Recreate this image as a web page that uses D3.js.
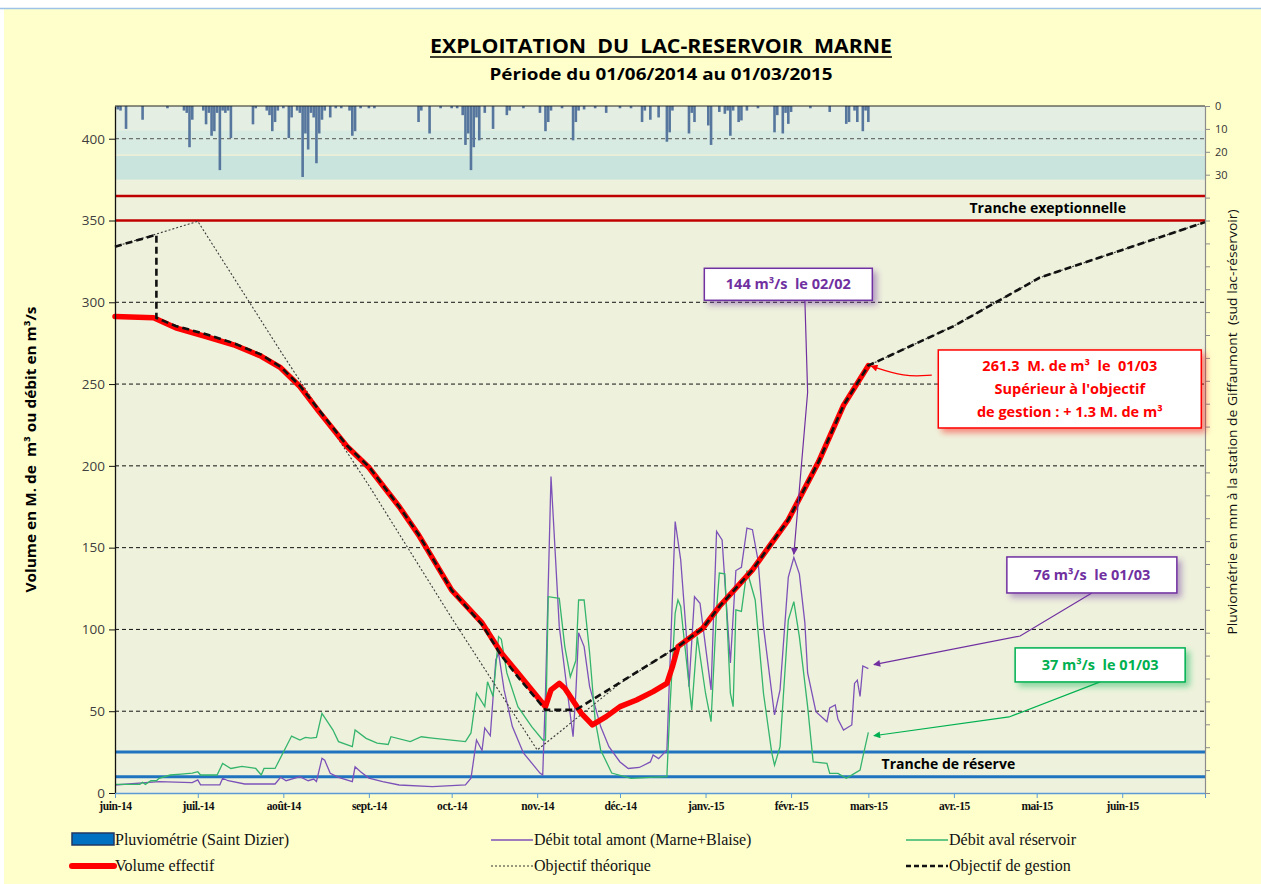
<!DOCTYPE html>
<html>
<head>
<meta charset="utf-8">
<script src="https://cdnjs.cloudflare.com/ajax/libs/d3/7.8.5/d3.min.js"></script>
<style>
  body { margin: 0; background: #fff; }
  svg { display: block; }
  text { white-space: pre; }
</style>
</head>
<body>
<svg></svg>
<script>
// ---- data ----
var monthLabels = ["juin-14", "juil.-14", "août-14", "sept.-14", "oct.-14", "nov.-14", "déc.-14",
  "janv.-15", "févr.-15", "mars-15", "avr.-15", "mai-15", "juin-15", ""];
var leftTicks = [0, 50, 100, 150, 200, 250, 300, 350, 400];
var gridValues = [50, 100, 150, 200, 250, 300, 400];
var rightLabels = [0, 10, 20, 30];
var trancheExceptionnelle = [350, 365];
var trancheReserve = [10, 25];
// background bands behind the rain bars (left axis units)
var rainBands = [[405, 420], [390, 405], [375, 390]];

// pluviometrie in mm (Saint Dizier)
var rain = [
  ["2014-06-02", 1.5], ["2014-06-03", 2], ["2014-06-05", 10], ["2014-06-11", 6], ["2014-06-20", 1],
  ["2014-06-26", 2], ["2014-06-27", 3], ["2014-06-28", 18], ["2014-06-29", 6], ["2014-07-03", 2],
  ["2014-07-04", 8], ["2014-07-05", 3], ["2014-07-06", 13], ["2014-07-07", 11], ["2014-07-08", 3],
  ["2014-07-09", 28], ["2014-07-10", 2], ["2014-07-11", 3], ["2014-07-12", 2], ["2014-07-13", 14],
  ["2014-07-21", 8], ["2014-07-22", 1], ["2014-07-26", 2], ["2014-07-27", 4], ["2014-07-28", 11],
  ["2014-07-29", 7], ["2014-07-30", 2], ["2014-08-01", 1], ["2014-08-03", 14], ["2014-08-04", 5],
  ["2014-08-06", 2], ["2014-08-07", 3], ["2014-08-08", 31], ["2014-08-09", 12], ["2014-08-10", 19],
  ["2014-08-11", 3], ["2014-08-12", 5], ["2014-08-13", 25], ["2014-08-14", 12], ["2014-08-15", 6],
  ["2014-08-16", 2], ["2014-08-18", 5], ["2014-08-20", 1], ["2014-08-22", 1], ["2014-08-25", 2],
  ["2014-08-26", 13], ["2014-08-27", 11], ["2014-08-29", 1], ["2014-09-01", 1], ["2014-09-03", 1],
  ["2014-09-19", 7], ["2014-09-20", 2], ["2014-09-23", 12], ["2014-09-27", 1], ["2014-10-01", 1],
  ["2014-10-03", 1], ["2014-10-05", 4], ["2014-10-06", 17], ["2014-10-07", 12], ["2014-10-08", 28],
  ["2014-10-09", 18], ["2014-10-10", 5], ["2014-10-11", 15], ["2014-10-13", 3], ["2014-10-16", 10],
  ["2014-10-21", 4], ["2014-10-22", 2], ["2014-10-27", 1], ["2014-11-02", 3], ["2014-11-04", 11],
  ["2014-11-05", 7], ["2014-11-06", 2], ["2014-11-10", 1], ["2014-11-14", 15], ["2014-11-15", 7],
  ["2014-11-16", 2], ["2014-11-18", 1.5], ["2014-11-22", 1], ["2014-11-26", 3], ["2014-12-01", 1],
  ["2014-12-05", 1], ["2014-12-09", 7], ["2014-12-10", 2], ["2014-12-12", 6], ["2014-12-15", 5],
  ["2014-12-18", 15.6], ["2014-12-19", 11.5], ["2014-12-20", 2], ["2014-12-26", 12], ["2014-12-27", 3],
  ["2014-12-28", 7], ["2015-01-02", 8.5], ["2015-01-03", 17], ["2015-01-06", 2.6], ["2015-01-08", 3.4],
  ["2015-01-09", 2], ["2015-01-10", 13], ["2015-01-11", 2], ["2015-01-13", 7], ["2015-01-14", 6.3],
  ["2015-01-16", 2], ["2015-01-20", 1], ["2015-01-26", 11.5], ["2015-01-27", 4], ["2015-01-29", 12],
  ["2015-01-30", 3], ["2015-01-31", 7.8], ["2015-02-01", 2.6], ["2015-02-08", 1], ["2015-02-15", 2.6],
  ["2015-02-21", 7.8], ["2015-02-22", 7], ["2015-02-24", 2], ["2015-02-25", 7], ["2015-02-27", 11],
  ["2015-02-28", 2], ["2015-03-01", 7]
];

// debit total amont (Marne+Blaise), m3/s
var debitAmont = [
  ["2014-06-01", 4.9], ["2014-06-17", 6.9], ["2014-06-29", 6.3], ["2014-07-01", 8], ["2014-07-02", 5],
  ["2014-07-09", 5], ["2014-07-10", 9], ["2014-07-12", 7.5], ["2014-07-18", 5.5], ["2014-07-29", 5.5],
  ["2014-07-31", 9.6], ["2014-08-02", 7.5], ["2014-08-07", 10], ["2014-08-10", 7.5], ["2014-08-12", 8.5],
  ["2014-08-13", 7], ["2014-08-15", 21.2], ["2014-08-16", 20], ["2014-08-18", 12], ["2014-08-21", 9.6],
  ["2014-08-26", 7], ["2014-08-27", 16], ["2014-08-29", 13], ["2014-09-01", 9.1], ["2014-09-06", 7],
  ["2014-09-12", 4.9], ["2014-09-24", 3.9], ["2014-10-06", 4.9], ["2014-10-08", 9], ["2014-10-10", 32.4],
  ["2014-10-12", 26], ["2014-10-13", 39.8], ["2014-10-15", 35], ["2014-10-17", 81.3], ["2014-10-18", 85.6],
  ["2014-10-20", 63], ["2014-10-23", 40.6], ["2014-10-27", 24.5], ["2014-11-02", 12.2], ["2014-11-03", 11],
  ["2014-11-04", 61], ["2014-11-06", 193.5], ["2014-11-07", 163], ["2014-11-09", 101.7], ["2014-11-12", 61],
  ["2014-11-14", 34.4], ["2014-11-15", 61], ["2014-11-16", 98], ["2014-11-18", 89.5], ["2014-11-20", 65],
  ["2014-11-24", 40.6], ["2014-11-27", 28.3], ["2014-12-01", 19], ["2014-12-04", 15], ["2014-12-08", 15.6],
  ["2014-12-12", 19], ["2014-12-13", 23.2], ["2014-12-15", 21], ["2014-12-18", 26.3], ["2014-12-19", 73.4],
  ["2014-12-21", 166], ["2014-12-23", 142.5], ["2014-12-25", 98], ["2014-12-26", 65], ["2014-12-28", 120],
  ["2014-12-30", 116], ["2015-01-03", 63], ["2015-01-05", 160], ["2015-01-07", 154.7], ["2015-01-10", 79.5],
  ["2015-01-12", 136], ["2015-01-14", 138], ["2015-01-16", 162], ["2015-01-18", 161], ["2015-01-20", 142.5],
  ["2015-01-22", 101.7], ["2015-01-26", 47.7], ["2015-01-28", 63], ["2015-01-31", 132], ["2015-02-02", 144],
  ["2015-02-04", 134], ["2015-02-06", 104], ["2015-02-07", 73.4], ["2015-02-10", 49.7], ["2015-02-14", 43.6],
  ["2015-02-15", 52], ["2015-02-17", 53.8], ["2015-02-18", 45], ["2015-02-20", 38.5], ["2015-02-23", 41.6],
  ["2015-02-24", 67], ["2015-02-25", 69], ["2015-02-26", 59], ["2015-02-27", 77.7], ["2015-03-01", 76]
];

// debit aval reservoir, m3/s
var debitAval = [
  ["2014-06-01", 5.3], ["2014-06-10", 5.3], ["2014-06-11", 6.6], ["2014-06-12", 5.3], ["2014-06-14", 7.5],
  ["2014-06-16", 7.5], ["2014-06-17", 9], ["2014-06-21", 11], ["2014-06-25", 11.6], ["2014-06-29", 12.2],
  ["2014-07-01", 13], ["2014-07-02", 11], ["2014-07-08", 11], ["2014-07-10", 18.1], ["2014-07-13", 15],
  ["2014-07-17", 16.3], ["2014-07-22", 15], ["2014-07-24", 11], ["2014-07-25", 15], ["2014-07-29", 15],
  ["2014-08-04", 34.8], ["2014-08-07", 32.4], ["2014-08-09", 34], ["2014-08-11", 33.6], ["2014-08-13", 34],
  ["2014-08-15", 48.7], ["2014-08-19", 38.5], ["2014-08-21", 31.4], ["2014-08-26", 28.3], ["2014-08-27", 38.5],
  ["2014-08-31", 33.4], ["2014-09-04", 30.5], ["2014-09-08", 29.7], ["2014-09-09", 34.4], ["2014-09-16", 31.4],
  ["2014-09-20", 34.4], ["2014-09-24", 33.6], ["2014-10-06", 31.4], ["2014-10-08", 36.7], ["2014-10-10", 61],
  ["2014-10-13", 52.8], ["2014-10-14", 68], ["2014-10-16", 59], ["2014-10-18", 95.6], ["2014-10-19", 94],
  ["2014-10-21", 73.4], ["2014-10-25", 52.8], ["2014-10-30", 40.6], ["2014-11-03", 32.4], ["2014-11-04", 32.4],
  ["2014-11-05", 120], ["2014-11-09", 119], ["2014-11-11", 89.5], ["2014-11-13", 71], ["2014-11-15", 81],
  ["2014-11-16", 118], ["2014-11-18", 118], ["2014-11-20", 85.6], ["2014-11-22", 44.6], ["2014-11-24", 26.3],
  ["2014-11-28", 12.2], ["2014-12-05", 9], ["2014-12-12", 9.5], ["2014-12-18", 10], ["2014-12-19", 49],
  ["2014-12-21", 110], ["2014-12-22", 118], ["2014-12-23", 114], ["2014-12-24", 98], ["2014-12-27", 50.8],
  ["2014-12-29", 95.6], ["2015-01-01", 61], ["2015-01-03", 43.6], ["2015-01-05", 112], ["2015-01-06", 134.5],
  ["2015-01-08", 134], ["2015-01-10", 61], ["2015-01-11", 52.8], ["2015-01-12", 112], ["2015-01-14", 111],
  ["2015-01-16", 136], ["2015-01-19", 118], ["2015-01-22", 61], ["2015-01-25", 24.5], ["2015-01-26", 17],
  ["2015-01-28", 28.3], ["2015-01-31", 105.8], ["2015-02-02", 117], ["2015-02-04", 95.6], ["2015-02-07", 52.8],
  ["2015-02-09", 19], ["2015-02-14", 18.1], ["2015-02-15", 12], ["2015-02-18", 12], ["2015-02-21", 9],
  ["2015-02-24", 12], ["2015-02-26", 14], ["2015-02-27", 22], ["2015-03-01", 37]
];

// volume effectif, M. de m3
var volume = [
  ["2014-06-01", 291.3], ["2014-06-15", 290.5], ["2014-06-23", 284.4], ["2014-07-04", 279], ["2014-07-14", 274],
  ["2014-07-24", 267], ["2014-07-31", 260], ["2014-08-07", 248.5], ["2014-08-14", 233], ["2014-08-24", 212],
  ["2014-09-01", 199], ["2014-09-12", 175], ["2014-09-19", 157.8], ["2014-10-01", 124], ["2014-10-12", 104],
  ["2014-10-19", 85.6], ["2014-10-25", 73.4], ["2014-11-04", 52.8], ["2014-11-06", 63], ["2014-11-09", 67],
  ["2014-11-11", 64], ["2014-11-17", 48.7], ["2014-11-21", 41.6], ["2014-11-26", 46.7], ["2014-12-01", 52.8],
  ["2014-12-07", 56.9], ["2014-12-13", 62], ["2014-12-18", 67], ["2014-12-20", 77.2], ["2014-12-22", 89.5],
  ["2014-12-31", 100.7], ["2015-01-06", 114], ["2015-01-18", 136.4], ["2015-01-31", 167], ["2015-02-11", 202.6],
  ["2015-02-20", 237], ["2015-03-01", 261.3]
];

// objectif theorique
var objectifTheorique = [
  ["2014-06-01", 334], ["2014-07-01", 349.5], ["2014-08-01", 267.5], ["2014-09-01", 188], ["2014-10-01", 107],
  ["2014-11-01", 26.3], ["2014-12-01", 67], ["2014-12-22", 89.5], ["2014-12-31", 100.7], ["2015-01-06", 114],
  ["2015-01-18", 136.4], ["2015-01-31", 167], ["2015-02-11", 202.6], ["2015-02-20", 237], ["2015-03-01", 261.3],
  ["2015-04-01", 285.5], ["2015-05-02", 315], ["2015-06-01", 332], ["2015-07-01", 349]
];

// objectif de gestion
var objectifGestion = [
  ["2014-06-01", 334], ["2014-06-16", 341.3], ["2014-06-16", 290.5], ["2014-06-23", 285.5], ["2014-07-04", 280.5],
  ["2014-07-14", 275], ["2014-07-24", 268], ["2014-07-31", 260.5], ["2014-08-07", 249], ["2014-08-14", 234],
  ["2014-08-24", 212.5], ["2014-09-01", 199.5], ["2014-09-12", 175], ["2014-09-19", 158], ["2014-10-01", 124],
  ["2014-10-12", 103], ["2014-10-19", 84], ["2014-10-25", 71], ["2014-11-04", 50.8], ["2014-11-15", 50.8],
  ["2014-12-22", 89.5], ["2014-12-31", 100.7], ["2015-01-06", 114], ["2015-01-18", 136.4], ["2015-01-31", 167],
  ["2015-02-11", 202.6], ["2015-02-20", 237], ["2015-03-01", 261.3], ["2015-04-01", 285.5], ["2015-05-02", 315],
  ["2015-06-01", 332], ["2015-07-01", 349]
];

// annotation boxes: centre in data units, leader points in data units
var annotations = [
  { lines: ["144 m³/s  le 02/02"], color: "#7030a0", center: ["2015-01-31", 311], w: 168, h: 32,
    leader: [["2015-02-06", 301.5], ["2015-02-07", 245], ["2015-02-02", 146]], curve: false },
  { lines: ["261.3  M. de m³  le  01/03", "Supérieur à l'objectif", "de gestion : + 1.3 M. de m³"], color: "#ff0000",
    center: ["2015-05-13", 247], w: 263, h: 78,
    leader: [["2015-03-24", 255.5], ["2015-03-14", 254.3], ["2015-03-02", 261]], curve: true },
  { lines: ["76 m³/s  le 01/03"], color: "#7030a0", center: ["2015-05-21", 133.3], w: 170, h: 36,
    leader: [["2015-05-21", 122.3], ["2015-04-25", 96], ["2015-03-03", 78.5]], curve: false },
  { lines: ["37 m³/s  le 01/03"], color: "#00b050", center: ["2015-05-24", 78.3], w: 170, h: 34,
    leader: [["2015-05-24", 67.9], ["2015-04-21", 46.5], ["2015-03-03", 35]], curve: false }
];

// ---- layout ----
var W = 1261, H = 884;
var plot = {left: 115, right: 1205, top: 106, bottom: 793};

var parse = d3.timeParse("%Y-%m-%d");
function rows(list) { return list.map(function(d) { return {date: parse(d[0]), value: d[1]}; }); }

var x = d3.scaleTime()
  .domain([parse("2014-06-01"), parse("2015-07-01")])
  .range([plot.left, plot.right]);
var yL = d3.scaleLinear().domain([0, 420]).range([plot.bottom, plot.top]);
var yR = d3.scaleLinear().domain([0, 300]).range([plot.top, plot.bottom]);

var svg = d3.select("svg").attr("width", W).attr("height", H);

// page background
svg.append("rect").attr("width", W).attr("height", H).attr("fill", "#fff");
svg.append("rect").attr("x", 4).attr("y", 9).attr("width", W - 4).attr("height", H - 9).attr("fill", "#ffffcc");
svg.append("line").attr("x1", 0).attr("x2", W).attr("y1", 8.5).attr("y2", 8.5)
  .attr("stroke", "#9dc3e6").attr("stroke-width", 1.5);

// shadows for annotation boxes
var defs = svg.append("defs");
annotations.forEach(function(a, i) {
  defs.append("filter").attr("id", "shadow" + i)
    .attr("x", "-20%").attr("y", "-40%").attr("width", "150%").attr("height", "190%")
    .append("feDropShadow")
    .attr("dx", 4).attr("dy", 4).attr("stdDeviation", 3)
    .attr("flood-color", a.color).attr("flood-opacity", 0.45);
  defs.append("marker").attr("id", "arrow" + i)
    .attr("viewBox", "0 0 10 10").attr("refX", 9).attr("refY", 5)
    .attr("markerWidth", 9).attr("markerHeight", 7).attr("markerUnits", "userSpaceOnUse")
    .attr("orient", "auto")
    .append("path").attr("d", "M0,0 L10,5 L0,10 z").attr("fill", a.color);
});

// plot background + rain bands
svg.append("rect")
  .attr("x", plot.left).attr("y", plot.top)
  .attr("width", plot.right - plot.left).attr("height", plot.bottom - plot.top)
  .attr("fill", "#eef2dc");
var bandColors = ["#e4eee3", "#d7ebe3", "#c9e4dd"];
svg.selectAll(".band").data(rainBands).enter().append("rect")
  .attr("class", "band")
  .attr("x", plot.left).attr("width", plot.right - plot.left)
  .attr("y", function(d) { return yL(d[1]); })
  .attr("height", function(d) { return yL(d[0]) - yL(d[1]); })
  .attr("fill", function(d, i) { return bandColors[i]; });
svg.append("line")
  .attr("x1", plot.left).attr("x2", plot.right)
  .attr("y1", yL(390)).attr("y2", yL(390))
  .attr("stroke", "#f6f3d6").attr("stroke-width", 1.2);

// horizontal dashed grid
svg.selectAll(".grid").data(gridValues).enter().append("line")
  .attr("class", "grid")
  .attr("x1", plot.left).attr("x2", plot.right)
  .attr("y1", function(d) { return yL(d); }).attr("y2", function(d) { return yL(d); })
  .attr("stroke", function(d) { return d == 400 ? "#555" : "#111"; })
  .attr("stroke-width", 1)
  .attr("stroke-dasharray", "4,3");

// rain bars hanging from the top
svg.selectAll(".rain").data(rows(rain)).enter().append("rect")
  .attr("class", "rain")
  .attr("x", function(d) { return x(d.date) - 1.3; })
  .attr("width", 2.6)
  .attr("y", yR(0))
  .attr("height", function(d) { return yR(d.value) - yR(0); })
  .attr("fill", "#56769d");

// tranche lines
svg.selectAll(".exc").data(trancheExceptionnelle).enter().append("line")
  .attr("class", "exc")
  .attr("x1", plot.left).attr("x2", plot.right)
  .attr("y1", function(d) { return yL(d); }).attr("y2", function(d) { return yL(d); })
  .attr("stroke", "#c00000").attr("stroke-width", 2.5);
svg.selectAll(".res").data(trancheReserve).enter().append("line")
  .attr("class", "res")
  .attr("x1", plot.left).attr("x2", plot.right)
  .attr("y1", function(d) { return yL(d); }).attr("y2", function(d) { return yL(d); })
  .attr("stroke", "#1f73bf").attr("stroke-width", 3);

svg.append("text")
  .attr("x", x(parse("2015-05-05"))).attr("y", yL(d3.mean(trancheExceptionnelle)) + 5)
  .attr("text-anchor", "middle")
  .style("font", "bold 14px 'Open Sans', sans-serif")
  .text("Tranche exeptionnelle");
svg.append("text")
  .attr("x", x(parse("2015-03-30"))).attr("y", yL(d3.mean(trancheReserve)) + 5)
  .attr("text-anchor", "middle")
  .style("font", "bold 14px 'Open Sans', sans-serif")
  .text("Tranche de réserve");

// series lines
var line = d3.line()
  .x(function(d) { return x(d.date); })
  .y(function(d) { return yL(d.value); });

svg.append("path").attr("d", line(rows(debitAmont)))
  .attr("fill", "none").attr("stroke", "#7d52b8").attr("stroke-width", 1.3);
svg.append("path").attr("d", line(rows(debitAval)))
  .attr("fill", "none").attr("stroke", "#35b46c").attr("stroke-width", 1.3);
svg.append("path").attr("d", line(rows(objectifTheorique)))
  .attr("fill", "none").attr("stroke", "#3a3a3a").attr("stroke-width", 1.1)
  .attr("stroke-dasharray", "2,2");
svg.append("path").attr("d", line(rows(volume)))
  .attr("fill", "none").attr("stroke", "#ff0000").attr("stroke-width", 5.5)
  .attr("stroke-linejoin", "round").attr("stroke-linecap", "round");
svg.append("path").attr("d", line(rows(objectifGestion)))
  .attr("fill", "none").attr("stroke", "#111").attr("stroke-width", 2.6)
  .attr("stroke-dasharray", "7,4");

// top border of the plot
svg.append("line")
  .attr("x1", plot.left).attr("x2", plot.right).attr("y1", plot.top).attr("y2", plot.top)
  .attr("stroke", "#222").attr("stroke-width", 1.2);

// axes
var leftAxis = svg.append("g")
  .attr("transform", "translate(" + plot.left + ",0)")
  .call(d3.axisLeft(yL).tickValues(leftTicks).tickSize(6).tickSizeOuter(0).tickPadding(4));
leftAxis.select(".domain").attr("stroke", "#111").attr("stroke-width", 1.3);
leftAxis.selectAll(".tick line").attr("stroke", "#111");
leftAxis.selectAll("text").style("font", "13.5px 'Open Sans', sans-serif").attr("fill", "#404040");

var monthTicks = d3.timeMonth.range(parse("2014-06-01"), parse("2015-07-02"));
var bottomAxis = svg.append("g")
  .attr("transform", "translate(0," + plot.bottom + ")")
  .call(d3.axisBottom(x).tickValues(monthTicks).tickSize(5).tickSizeOuter(0).tickPadding(4)
    .tickFormat(function(d, i) { return monthLabels[i]; }));
bottomAxis.select(".domain").attr("stroke", "#5b9bd5").attr("stroke-width", 1.3);
bottomAxis.selectAll(".tick line").attr("stroke", "#5b9bd5");
bottomAxis.selectAll("text")
  .style("font", "bold 11.5px 'Liberation Serif', serif")
  .style("letter-spacing", "-0.4px")
  .attr("fill", "#111");

var rightAxis = svg.append("g")
  .attr("transform", "translate(" + plot.right + ",0)")
  .call(d3.axisRight(yR).tickValues(d3.range(0, 301, 10)).tickSize(5).tickSizeOuter(0).tickPadding(5)
    .tickFormat(function(d) { return rightLabels.indexOf(d) >= 0 ? d : ""; }));
rightAxis.select(".domain").attr("stroke", "#8c8c8c").attr("stroke-width", 1.2);
rightAxis.selectAll(".tick line").attr("stroke", "#8c8c8c");
rightAxis.selectAll("text").style("font", "11px 'Open Sans', sans-serif").attr("fill", "#333");

// axis titles
svg.append("text")
  .attr("transform", "translate(36," + ((plot.top + plot.bottom) / 2) + ") rotate(-90)")
  .attr("text-anchor", "middle")
  .attr("textLength", 286).attr("lengthAdjust", "spacingAndGlyphs")
  .style("font", "bold 14px 'Open Sans', sans-serif")
  .text("Volume en M. de  m³ ou débit en m³/s");
svg.append("text")
  .attr("transform", "translate(1237,422) rotate(-90)")
  .attr("text-anchor", "middle")
  .attr("textLength", 425).attr("lengthAdjust", "spacingAndGlyphs")
  .style("font", "13px 'Open Sans', sans-serif")
  .attr("fill", "#111")
  .text("Pluviométrie en mm à la station de Giffaumont  (sud lac-réservoir)");

// title
svg.append("text")
  .attr("x", 661).attr("y", 53).attr("text-anchor", "middle")
  .attr("textLength", 462).attr("lengthAdjust", "spacingAndGlyphs")
  .style("font", "bold 19px 'Open Sans', sans-serif")
  .text("EXPLOITATION  DU  LAC-RESERVOIR  MARNE");
svg.append("line").attr("x1", 430).attr("x2", 892).attr("y1", 57).attr("y2", 57)
  .attr("stroke", "#000").attr("stroke-width", 1.6);
svg.append("text")
  .attr("x", 661).attr("y", 80).attr("text-anchor", "middle")
  .attr("textLength", 343).attr("lengthAdjust", "spacingAndGlyphs")
  .style("font", "bold 16px 'Open Sans', sans-serif")
  .text("Période du 01/06/2014 au 01/03/2015");

// annotations
annotations.forEach(function(a, i) {
  var pts = a.leader.map(function(p) { return [x(parse(p[0])), yL(p[1])]; });
  var leaderLine = d3.line().curve(a.curve ? d3.curveBasis : d3.curveLinear);
  svg.append("path").attr("d", leaderLine(pts))
    .attr("fill", "none").attr("stroke", a.color).attr("stroke-width", 1.2)
    .attr("marker-end", "url(#arrow" + i + ")");

  var cx = x(parse(a.center[0])), cy = yL(a.center[1]);
  svg.append("rect")
    .attr("x", cx - a.w / 2).attr("y", cy - a.h / 2)
    .attr("width", a.w).attr("height", a.h)
    .attr("fill", "#fff").attr("stroke", a.color).attr("stroke-width", 1.5)
    .attr("filter", "url(#shadow" + i + ")");
  var t = svg.append("text")
    .attr("text-anchor", "middle")
    .style("font", "bold 14.5px 'Open Sans', sans-serif")
    .attr("fill", a.color);
  var first = cy - (a.lines.length - 1) * 11.5 + 5;
  a.lines.forEach(function(s, k) {
    t.append("tspan").attr("x", cx).attr("y", first + k * 23).text(s);
  });
});

// legend
var legend = [
  {label: "Pluviométrie (Saint Dizier)", type: "rect", color: "#0070c0", col: 0, row: 0},
  {label: "Débit total amont (Marne+Blaise)", type: "line", color: "#7d52b8", width: 1.5, dash: null, col: 1, row: 0},
  {label: "Débit aval réservoir", type: "line", color: "#35b46c", width: 1.5, dash: null, col: 2, row: 0},
  {label: "Volume effectif", type: "line", color: "#ff0000", width: 6, dash: null, col: 0, row: 1},
  {label: "Objectif théorique", type: "line", color: "#333", width: 1, dash: "2,2", col: 1, row: 1},
  {label: "Objectif de gestion", type: "line", color: "#111", width: 2.6, dash: "5,3", col: 2, row: 1}
];
var legendX = [72, 491, 906], legendY = [840, 866];
legend.forEach(function(l) {
  var lx = legendX[l.col], ly = legendY[l.row];
  if (l.type == "rect") {
    svg.append("rect").attr("x", lx).attr("y", ly - 7).attr("width", 42).attr("height", 12)
      .attr("fill", l.color).attr("stroke", "#1f3864").attr("stroke-width", 1.5);
  } else {
    svg.append("line").attr("x1", lx).attr("x2", lx + 42).attr("y1", ly).attr("y2", ly)
      .attr("stroke", l.color).attr("stroke-width", l.width)
      .attr("stroke-linecap", l.width > 4 ? "round" : "butt")
      .attr("stroke-dasharray", l.dash);
  }
  svg.append("text").attr("x", lx + 43).attr("y", ly + 5)
    .style("font", "16px 'Liberation Serif', serif")
    .attr("fill", "#111")
    .text(l.label);
});
</script>
</body>
</html>
